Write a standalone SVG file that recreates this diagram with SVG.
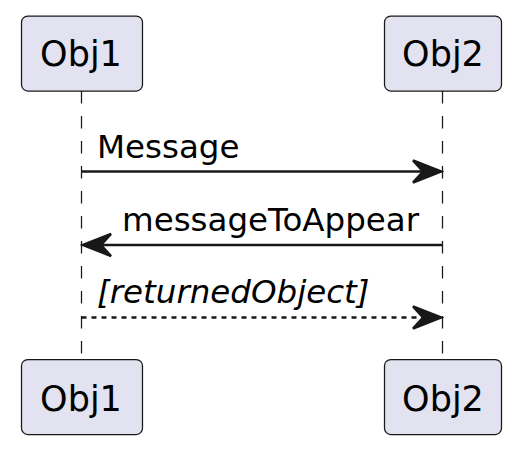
<svg xmlns="http://www.w3.org/2000/svg" width="522" height="455" viewBox="0 0 522 455">
<defs>
<style>
.box{fill:#E2E2F0;stroke:#181818;stroke-width:1.25}
.ptxt{font-family:"DejaVu Sans",sans-serif;font-size:35px;fill:#000000;text-anchor:middle}
.life{stroke:#181818;stroke-width:1.25;stroke-dasharray:12.5,12.5;fill:none}
.msg{stroke:#181818;stroke-width:2.5;fill:none}
.dash{stroke-dasharray:5,5}
.head{fill:#181818;stroke:#181818;stroke-width:2.5}
.mtxt{font-family:"DejaVu Sans",sans-serif;font-size:32.5px;fill:#000000}
</style>
</defs>
<rect width="522" height="455" fill="#FFFFFF"/>
<g id="lifelines">
<line class="life" x1="81.5" y1="91" x2="81.5" y2="359"/>
<line class="life" x1="442.5" y1="91" x2="442.5" y2="359"/>
</g>
<g id="obj1-top">
<rect class="box" x="21.5" y="16" width="121" height="75" rx="6.25"/>
<text class="ptxt" x="81" y="66">Obj1</text>
</g>
<g id="obj2-top">
<rect class="box" x="384.5" y="16" width="117" height="75" rx="6.25"/>
<text class="ptxt" x="443" y="66">Obj2</text>
</g>
<g id="obj1-bottom">
<rect class="box" x="21.5" y="359.5" width="121" height="75" rx="6.25"/>
<text class="ptxt" x="81" y="410.5">Obj1</text>
</g>
<g id="obj2-bottom">
<rect class="box" x="384.5" y="359.5" width="117" height="75" rx="6.25"/>
<text class="ptxt" x="443" y="410.5">Obj2</text>
</g>
<g id="connectors">
<line class="msg" x1="81.5" y1="171.5" x2="435" y2="171.5"/>
<polygon class="head" points="441,171.5 413,160.5 423,171.5 413,182.5"/>
<text class="mtxt" x="97" y="158">Message</text>
<line class="msg" x1="89" y1="245" x2="442.5" y2="245"/>
<polygon class="head" points="83,245 111,234 101,245 111,256"/>
<text class="mtxt" x="122" y="231">messageToAppear</text>
<line class="msg dash" x1="81.5" y1="317.5" x2="435" y2="317.5"/>
<polygon class="head" points="441,317.5 413,306.5 423,317.5 413,328.5"/>
<text class="mtxt" x="97" y="303" font-style="italic">[returnedObject]</text>
</g>
</svg>
